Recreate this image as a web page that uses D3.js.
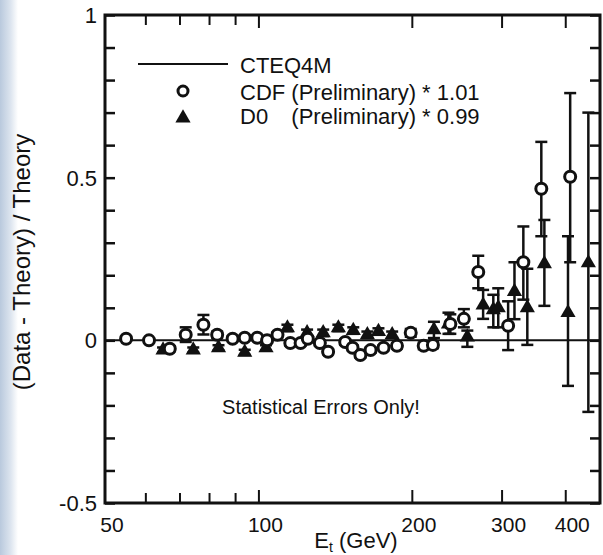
<!DOCTYPE html>
<html>
<head>
<meta charset="utf-8">
<script src="https://cdn.jsdelivr.net/npm/d3@7"></script>
<style>
  body { margin: 0; background: #fff; }
  text { font-family: "Liberation Sans", Arial, sans-serif; fill: #111; }
</style>
</head>
<body>
<div id="chart"></div>
<script>
// CDF points (open circles): Et in GeV, (data - theory)/theory, error bar ends
const cdfEt  = [55, 61, 67, 72, 78, 83, 89, 94, 99.5, 104, 109, 115.5, 121, 125, 132, 137, 148, 153, 158.5, 166, 176, 187, 199, 211, 220, 238, 253, 270, 309, 331, 359, 409];
const cdfVal = [0.005, 0, -0.026, 0.017, 0.048, 0.017, 0.005, 0.008, 0.008, 0, 0.017, -0.008, -0.008, 0.005, -0.008, -0.035, -0.005, -0.023, -0.045, -0.03, -0.023, -0.017, 0.023, -0.017, -0.014, 0.05, 0.066, 0.21, 0.045, 0.24, 0.466, 0.503];
const cdfLo  = [-0.001, -0.006, -0.034, -0.005, 0.018, 0.007, -0.003, 0, 0, -0.008, 0.009, -0.016, -0.016, -0.003, -0.016, -0.043, -0.013, -0.031, -0.053, -0.038, -0.031, -0.025, 0.011, -0.027, -0.024, 0.02, 0.04, 0.16, -0.03, 0.125, 0.32, 0.24];
const cdfHi  = [0.011, 0.006, -0.018, 0.04, 0.078, 0.027, 0.013, 0.016, 0.016, 0.008, 0.025, 0, 0, 0.013, 0, -0.027, 0.003, -0.015, -0.037, -0.022, -0.015, -0.009, 0.035, -0.007, -0.004, 0.08, 0.096, 0.26, 0.12, 0.35, 0.61, 0.76];

// D0 points (filled triangles)
const d0Et  = [65, 74.5, 83.5, 94, 103.5, 114, 124.6, 134, 143.5, 153.5, 163.6, 172, 183, 221, 236, 257, 276, 289, 295.5, 318, 337, 364, 405, 444];
const d0Val = [-0.03, -0.03, -0.023, -0.037, -0.023, 0.038, 0.023, 0.023, 0.038, 0.03, 0.017, 0.027, 0.017, 0.032, 0.05, 0.01, 0.108, 0.094, 0.1, 0.15, 0.1, 0.235, 0.085, 0.238];
const d0Lo  = [-0.038, -0.038, -0.031, -0.045, -0.031, 0.028, 0.013, 0.013, 0.028, 0.02, 0.007, 0.017, 0.007, 0.007, 0.02, -0.02, 0.066, 0.04, 0.04, 0.065, -0.014, 0.106, -0.14, -0.22];
const d0Hi  = [-0.022, -0.022, -0.015, -0.029, -0.015, 0.048, 0.033, 0.033, 0.048, 0.04, 0.027, 0.037, 0.027, 0.057, 0.085, 0.03, 0.155, 0.14, 0.16, 0.24, 0.22, 0.37, 0.32, 0.70];

// axis ticks
const xLabelTicks = [50, 100, 200, 300, 400];
const xMinorTicks = [60, 70, 80, 90];
const xMajorTicks = [100, 200, 300, 400];
const yLabelTicks = [-0.5, 0, 0.5, 1];
const yMinorTicks = [-0.4, -0.3, -0.2, -0.1, 0.1, 0.2, 0.3, 0.4, 0.6, 0.7, 0.8, 0.9];

const legendLabels = ["CTEQ4M", "CDF (Preliminary) * 1.01", "D0"];
const d0Suffix = "(Preliminary) * 0.99";
const noteText = "Statistical Errors Only!";

const W = 603, H = 555;
const frame = { left: 105, right: 600, top: 15, bottom: 503 };

const svg = d3.select('#chart')
    .append('svg')
    .attr('width', W)
    .attr('height', H);

// slide background strip on the far left
const grad = svg.append('defs').append('linearGradient')
    .attr('id', 'slide')
    .attr('x1', 0).attr('x2', 1).attr('y1', 0).attr('y2', 0);
grad.append('stop').attr('offset', '0%').attr('stop-color', '#b9c9dd');
grad.append('stop').attr('offset', '60%').attr('stop-color', '#dde5ef');
grad.append('stop').attr('offset', '100%').attr('stop-color', '#ffffff');
svg.append('rect').attr('x', 0).attr('y', 0).attr('width', 18).attr('height', H).attr('fill', 'url(#slide)');

const x = d3.scaleLog().domain([50, 468]).range([frame.left, frame.right]);
const y = d3.scaleLinear().domain([-0.5, 1]).range([frame.bottom, frame.top]);

const axisG = svg.append('g');

// inward ticks on all four sides
function tickAxis(axis, transform, size, values, width) {
    const g = axisG.append('g')
        .attr('transform', transform)
        .call(axis.tickValues(values).tickSizeInner(size).tickSizeOuter(0).tickFormat(''));
    g.select('.domain').remove();
    g.selectAll('line').attr('stroke', '#111').attr('stroke-width', width);
    return g;
}
tickAxis(d3.axisBottom(x), `translate(0,${frame.bottom})`, -10, xMinorTicks, 2);
tickAxis(d3.axisBottom(x), `translate(0,${frame.bottom})`, -13, xMajorTicks, 2);
tickAxis(d3.axisTop(x), `translate(0,${frame.top})`, -10, xMinorTicks, 2);
tickAxis(d3.axisTop(x), `translate(0,${frame.top})`, -13, xMajorTicks, 2);
tickAxis(d3.axisLeft(y), `translate(${frame.left},0)`, -10, yMinorTicks.concat(yLabelTicks), 2.5);
tickAxis(d3.axisRight(y), `translate(${frame.right},0)`, -10, yMinorTicks.concat(yLabelTicks), 2.5);

// tick labels
axisG.selectAll('.xlab')
    .data(xLabelTicks)
    .join('text')
    .attr('x', d => x(d) + 7)
    .attr('y', 532)
    .attr('text-anchor', 'middle')
    .style('font-size', '21px')
    .text(d => d);

axisG.selectAll('.ylab')
    .data(yLabelTicks)
    .join('text')
    .attr('x', 97)
    .attr('y', d => y(d))
    .attr('dy', '0.36em')
    .attr('text-anchor', 'end')
    .style('font-size', '22px')
    .text(d => d);

// axis titles
const xTitle = svg.append('text')
    .attr('x', 356)
    .attr('y', 548)
    .attr('text-anchor', 'middle')
    .style('font-size', '22px');
xTitle.append('tspan').text('E');
xTitle.append('tspan').attr('dy', 4).style('font-size', '14px').text('t');
xTitle.append('tspan').attr('dy', -4).text(' (GeV)');

svg.append('text')
    .attr('transform', 'translate(30,262) rotate(-90)')
    .attr('text-anchor', 'middle')
    .style('font-size', '24px')
    .text('(Data - Theory) / Theory');

// theory line at zero
svg.append('line')
    .attr('x1', frame.left).attr('x2', frame.right)
    .attr('y1', y(0)).attr('y2', y(0))
    .attr('stroke', '#111').attr('stroke-width', 2);

const cdf = cdfEt.map((e, i) => ({ e, v: cdfVal[i], lo: cdfLo[i], hi: cdfHi[i] }));
const d0 = d0Et.map((e, i) => ({ e, v: d0Val[i], lo: d0Lo[i], hi: d0Hi[i] }));

// error bars with caps
function errorBars(data) {
    const g = svg.append('g').attr('stroke', '#111').attr('stroke-width', 2.5);
    g.selectAll('.bar').data(data).join('line')
        .attr('x1', d => x(d.e)).attr('x2', d => x(d.e))
        .attr('y1', d => y(d.lo)).attr('y2', d => y(d.hi));
    ['lo', 'hi'].forEach(k => {
        g.selectAll('.cap-' + k).data(data).join('line')
            .attr('x1', d => x(d.e) - 6).attr('x2', d => x(d.e) + 6)
            .attr('y1', d => y(d[k])).attr('y2', d => y(d[k]));
    });
}
errorBars(d0);
errorBars(cdf);

const triangle = d3.symbol().type(d3.symbolTriangle).size(100);

svg.append('g').selectAll('path').data(d0).join('path')
    .attr('d', triangle)
    .attr('transform', d => `translate(${x(d.e)},${y(d.v)})`)
    .attr('fill', '#111');

svg.append('g').selectAll('circle').data(cdf).join('circle')
    .attr('cx', d => x(d.e)).attr('cy', d => y(d.v))
    .attr('r', 5.5)
    .attr('fill', '#fff')
    .attr('stroke', '#111')
    .attr('stroke-width', 3);

// frame
svg.append('rect')
    .attr('x', frame.left).attr('y', frame.top)
    .attr('width', frame.right - frame.left).attr('height', frame.bottom - frame.top)
    .attr('fill', 'none').attr('stroke', '#111').attr('stroke-width', 3);

// legend
const legend = svg.append('g');
legend.append('line')
    .attr('x1', 138).attr('x2', 228).attr('y1', 64).attr('y2', 64)
    .attr('stroke', '#111').attr('stroke-width', 2);
legend.append('circle')
    .attr('cx', 183).attr('cy', 91).attr('r', 5)
    .attr('fill', '#fff').attr('stroke', '#111').attr('stroke-width', 3);
legend.append('path')
    .attr('d', triangle)
    .attr('transform', 'translate(183,118)')
    .attr('fill', '#111');

const legendFont = '22px';
const rowY = [73, 100, 124];
legend.selectAll('.lab').data(legendLabels).join('text')
    .attr('x', 240)
    .attr('y', (d, i) => rowY[i])
    .style('font-size', legendFont)
    .text(d => d);

// align the D0 "(Preliminary)" under the CDF one
const probe = legend.append('text').style('font-size', legendFont).text('CDF (');
const paren = legend.append('text').style('font-size', legendFont).text('(');
const offset = probe.node().getComputedTextLength() - paren.node().getComputedTextLength();
probe.remove();
paren.remove();
legend.append('text')
    .attr('x', 240 + offset)
    .attr('y', rowY[2])
    .style('font-size', legendFont)
    .text(d0Suffix);

svg.append('text')
    .attr('x', 321)
    .attr('y', 414)
    .attr('text-anchor', 'middle')
    .style('font-size', '20px')
    .text(noteText);
</script>
</body>
</html>
